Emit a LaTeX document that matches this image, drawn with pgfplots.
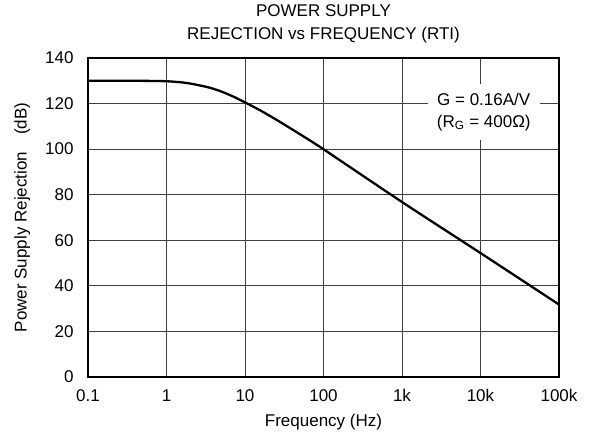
\documentclass[border=0pt]{standalone}
\usepackage{pgfplots}
\pgfplotsset{compat=1.18}
\usepackage{fontspec}
\setmainfont{Liberation Sans}
\begin{document}
\begin{tikzpicture}
\begin{axis}[
  scale only axis,
  width=471pt, height=319pt,
  xmode=log,
  xmin=0.1, xmax=100000,
  ymin=0, ymax=140,
  xtick={0.1,1,10,100,1000,10000,100000},
  xticklabels={0.1,1,10,100,1k,10k,100k},
  ytick={0,20,40,60,80,100,120,140},
  log ticks with fixed point,
  major tick length=0pt,
  minor tick length=0pt,
  grid=major,
  major grid style={line width=0.9pt, draw=black!75},
  axis line style={line width=2.2pt, black},
  tick label style={font=\fontsize{17}{20}\selectfont},
  /pgf/number format/assume math mode=true,
  xticklabel style={yshift=-9pt},
  yticklabel style={xshift=-11pt},
  xlabel={Frequency (Hz)},
  ylabel={Power Supply Rejection\quad(dB)},
  label style={font=\fontsize{17}{20}\selectfont},
  xlabel style={yshift=-5pt},
  ylabel style={yshift=8pt},
  title={POWER SUPPLY\\REJECTION vs FREQUENCY (RTI)},
  title style={font=\fontsize{17}{23}\selectfont, align=center, yshift=5pt},
  clip=true,
]
\addplot[line width=2.3pt, black, smooth] coordinates {
  (0.1,130.0) (0.3,130.0) (0.6,129.95) (1,129.8) (1.5,129.36) (2,128.8)
  (3.16,127.4) (4,126.44) (5,125.28) (7,123.16) (10,120.52) (15,117.35)
  (20,114.91) (30,111.30) (50,106.57) (100,99.95) (1000,76.8) (10000,54.4) (100000,31.8)
};
\node[fill=white, align=center, inner xsep=9pt, inner ysep=9pt, font=\fontsize{17}{22}\selectfont]
  at (axis cs:11000,116.3) {G = 0.16A/V\\(R\textsubscript{G} = 400Ω)};
\coordinate (sw) at (rel axis cs:0,0);
\coordinate (ne) at (rel axis cs:1,1);
\end{axis}
\path ([shift={(-88pt,-68pt)}]sw) rectangle ([shift={(37pt,58pt)}]ne);
\end{tikzpicture}
\end{document}
